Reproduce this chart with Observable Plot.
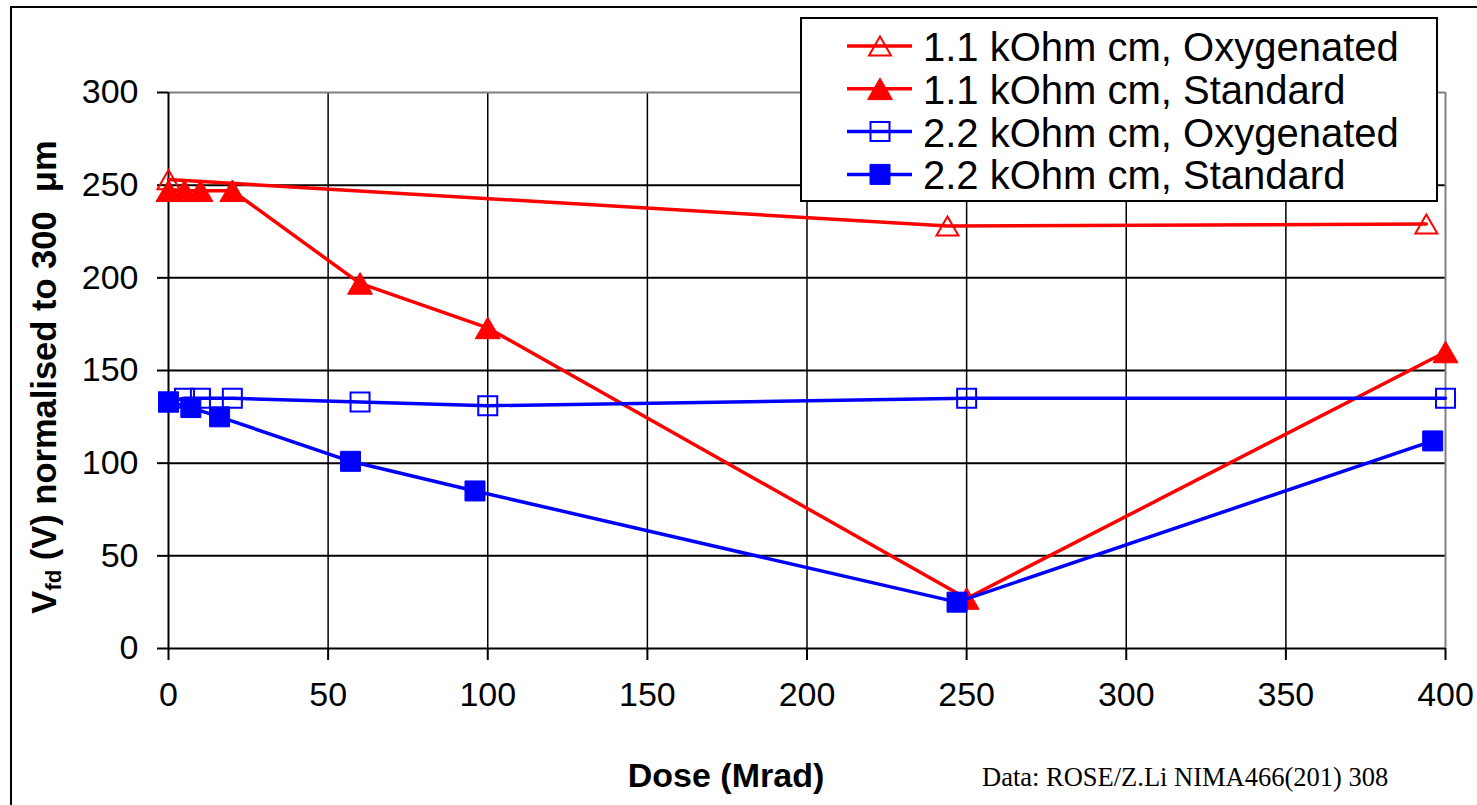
<!DOCTYPE html>
<html><head><meta charset="utf-8">
<script src="https://cdn.jsdelivr.net/npm/d3@7"></script>
<script src="https://cdn.jsdelivr.net/npm/@observablehq/plot@0.6"></script>
<style>
html,body{margin:0;padding:0;background:#fff;overflow:hidden}
#wrap{position:relative;width:1477px;height:805px;font-family:"Liberation Sans",Arial,sans-serif}
#wrap > svg{position:absolute;left:0;top:0}
</style></head><body><div id="wrap"></div>
<script>
// ---- data ----
const xTicks = [0, 50, 100, 150, 200, 250, 300, 350, 400];
const yTicks = [0, 50, 100, 150, 200, 250, 300];
const seriesNames = ["1.1 kOhm cm, Oxygenated", "1.1 kOhm cm, Standard", "2.2 kOhm cm, Oxygenated", "2.2 kOhm cm, Standard"];
const seriesColors = ["#FF0000", "#FF0000", "#0000FF", "#0000FF"];
const seriesShapes = ["triangle", "triangle", "square", "square"];
const seriesFilled = [false, true, false, true];

const doseRedOxy = [0, 244, 394];
const vfdRedOxy  = [253, 228, 229];
const doseRedStd = [0, 5, 10, 20, 60, 100, 250, 400];
const vfdRedStd  = [247, 247, 247, 247, 197, 173, 27, 160];
const doseBlueOxy = [0, 5, 10, 20, 60, 100, 250, 400];
const vfdBlueOxy  = [133, 135, 135, 135, 133, 131, 135, 135];
const doseBlueStd = [0, 7, 16, 57, 96, 247, 396];
const vfdBlueStd  = [133, 130, 125, 101, 85, 25, 112];

const xLabel = "Dose (Mrad)";
const caption = "Data: ROSE/Z.Li NIMA466(201) 308";

// ---- symbols (centered on bounding box, like the spreadsheet markers) ----
const triangleSym = {draw(ctx, size) {
  const r = Math.sqrt(size / Math.PI), h = r * Math.sqrt(3);
  ctx.moveTo(0, -h / 2); ctx.lineTo(r, h / 2); ctx.lineTo(-r, h / 2); ctx.closePath();
}};
const squareSym = {draw(ctx, size) {
  const r = Math.sqrt(size / Math.PI);
  ctx.rect(-r, -r, 2 * r, 2 * r);
}};
const symFor = s => s === "triangle" ? triangleSym : squareSym;
const rFor = (shape, filled) => shape === "triangle" ? (filled ? 12.5 : 11) : (filled ? 10 : 9.5);

const doses = [doseRedOxy, doseRedStd, doseBlueOxy, doseBlueStd];
const vals = [vfdRedOxy, vfdRedStd, vfdBlueOxy, vfdBlueStd];
const series = seriesNames.map((name, i) => ({
  name, color: seriesColors[i], shape: seriesShapes[i], filled: seriesFilled[i],
  data: doses[i].map((d, j) => ({dose: d, value: vals[i][j]}))
}));

const marks = [
  Plot.gridY(yTicks.filter(v => v !== 300 && v !== 0), {stroke: "#000", strokeOpacity: 1, strokeWidth: 2}),
  Plot.gridX(xTicks.filter(v => v !== 400 && v !== 0), {stroke: "#000", strokeOpacity: 1, strokeWidth: 1.5}),
  Plot.ruleY([300], {stroke: "#808080", strokeWidth: 2}),
  Plot.ruleX([400], {stroke: "#808080", strokeWidth: 2}),
  Plot.ruleY([0], {stroke: "#000", strokeWidth: 2}),
  Plot.ruleX([0], {stroke: "#000", strokeWidth: 2}),
  Plot.axisY({ticks: yTicks, tickSize: 11, tickPadding: 19, fontSize: 34, strokeWidth: 2, stroke: "#000", color: "#000", label: null, tickFormat: d => String(d)}),
  Plot.axisX({ticks: xTicks, tickSize: 12, tickPadding: 21, fontSize: 34, strokeWidth: 2, stroke: "#000", color: "#000", label: null, tickFormat: d => String(d)})
];
for (const s of series) {
  marks.push(Plot.line(s.data, {x: "dose", y: "value", stroke: s.color, strokeWidth: 3.5}));
  marks.push(Plot.dot(s.data, {x: "dose", y: "value", symbol: symFor(s.shape), r: rFor(s.shape, s.filled),
    fill: s.filled ? s.color : "none", stroke: s.color, strokeWidth: s.filled ? 1 : 2}));
}

const chart = Plot.plot({
  width: 1477, height: 805,
  marginLeft: 168, marginRight: 32, marginTop: 92, marginBottom: 157,
  x: {domain: [0, 400]},
  y: {domain: [0, 300]},
  style: {fontFamily: "'Liberation Sans', Arial, sans-serif", fontSize: "34px", color: "#000", background: "transparent"},
  marks
});
const wrap = document.getElementById("wrap");
wrap.appendChild(chart);

// ---- overlay: frame, titles, caption, legend ----
const ov = d3.select(wrap).append("svg").attr("width", 1477).attr("height", 805)
  .style("font-family", "'Liberation Sans', Arial, sans-serif").style("pointer-events", "none");
ov.append("rect").attr("x", 11).attr("y", 7).attr("width", 1520).attr("height", 860)
  .attr("fill", "none").attr("stroke", "#000").attr("stroke-width", 2);

const yt = ov.append("text").attr("transform", "translate(56,377) rotate(-90)")
  .attr("text-anchor", "middle").attr("font-weight", "bold").attr("font-size", 34.5).attr("fill", "#000");
yt.append("tspan").text("V");
yt.append("tspan").attr("font-size", 22).attr("dy", 5).text("fd");
yt.append("tspan").attr("dy", -5).text(" (V) normalised to 300 \u00a0\u03bcm");

ov.append("text").attr("x", 726).attr("y", 787).attr("text-anchor", "middle")
  .attr("font-weight", "bold").attr("font-size", 34).attr("fill", "#000").text(xLabel);
ov.append("text").attr("x", 982).attr("y", 786).attr("font-family", "'Liberation Serif', 'Times New Roman', serif")
  .attr("font-size", 26.5).attr("fill", "#000").text(caption);

const lg = ov.append("g");
lg.append("rect").attr("x", 801).attr("y", 18).attr("width", 636).attr("height", 183)
  .attr("fill", "#fff").attr("stroke", "#000").attr("stroke-width", 2);
series.forEach((s, i) => {
  const cy = 46 + 42.8 * i;
  lg.append("line").attr("x1", 847).attr("x2", 912).attr("y1", cy).attr("y2", cy)
    .attr("stroke", s.color).attr("stroke-width", 3.5);
  const r = rFor(s.shape, s.filled);
  lg.append("path").attr("transform", `translate(880,${cy})`)
    .attr("d", d3.symbol(symFor(s.shape), Math.PI * r * r)())
    .attr("fill", s.filled ? s.color : "none").attr("stroke", s.color).attr("stroke-width", s.filled ? 1 : 2);
  lg.append("text").attr("x", 923).attr("y", cy + 15).attr("font-size", 40).attr("fill", "#000").text(s.name);
});
</script></body></html>
